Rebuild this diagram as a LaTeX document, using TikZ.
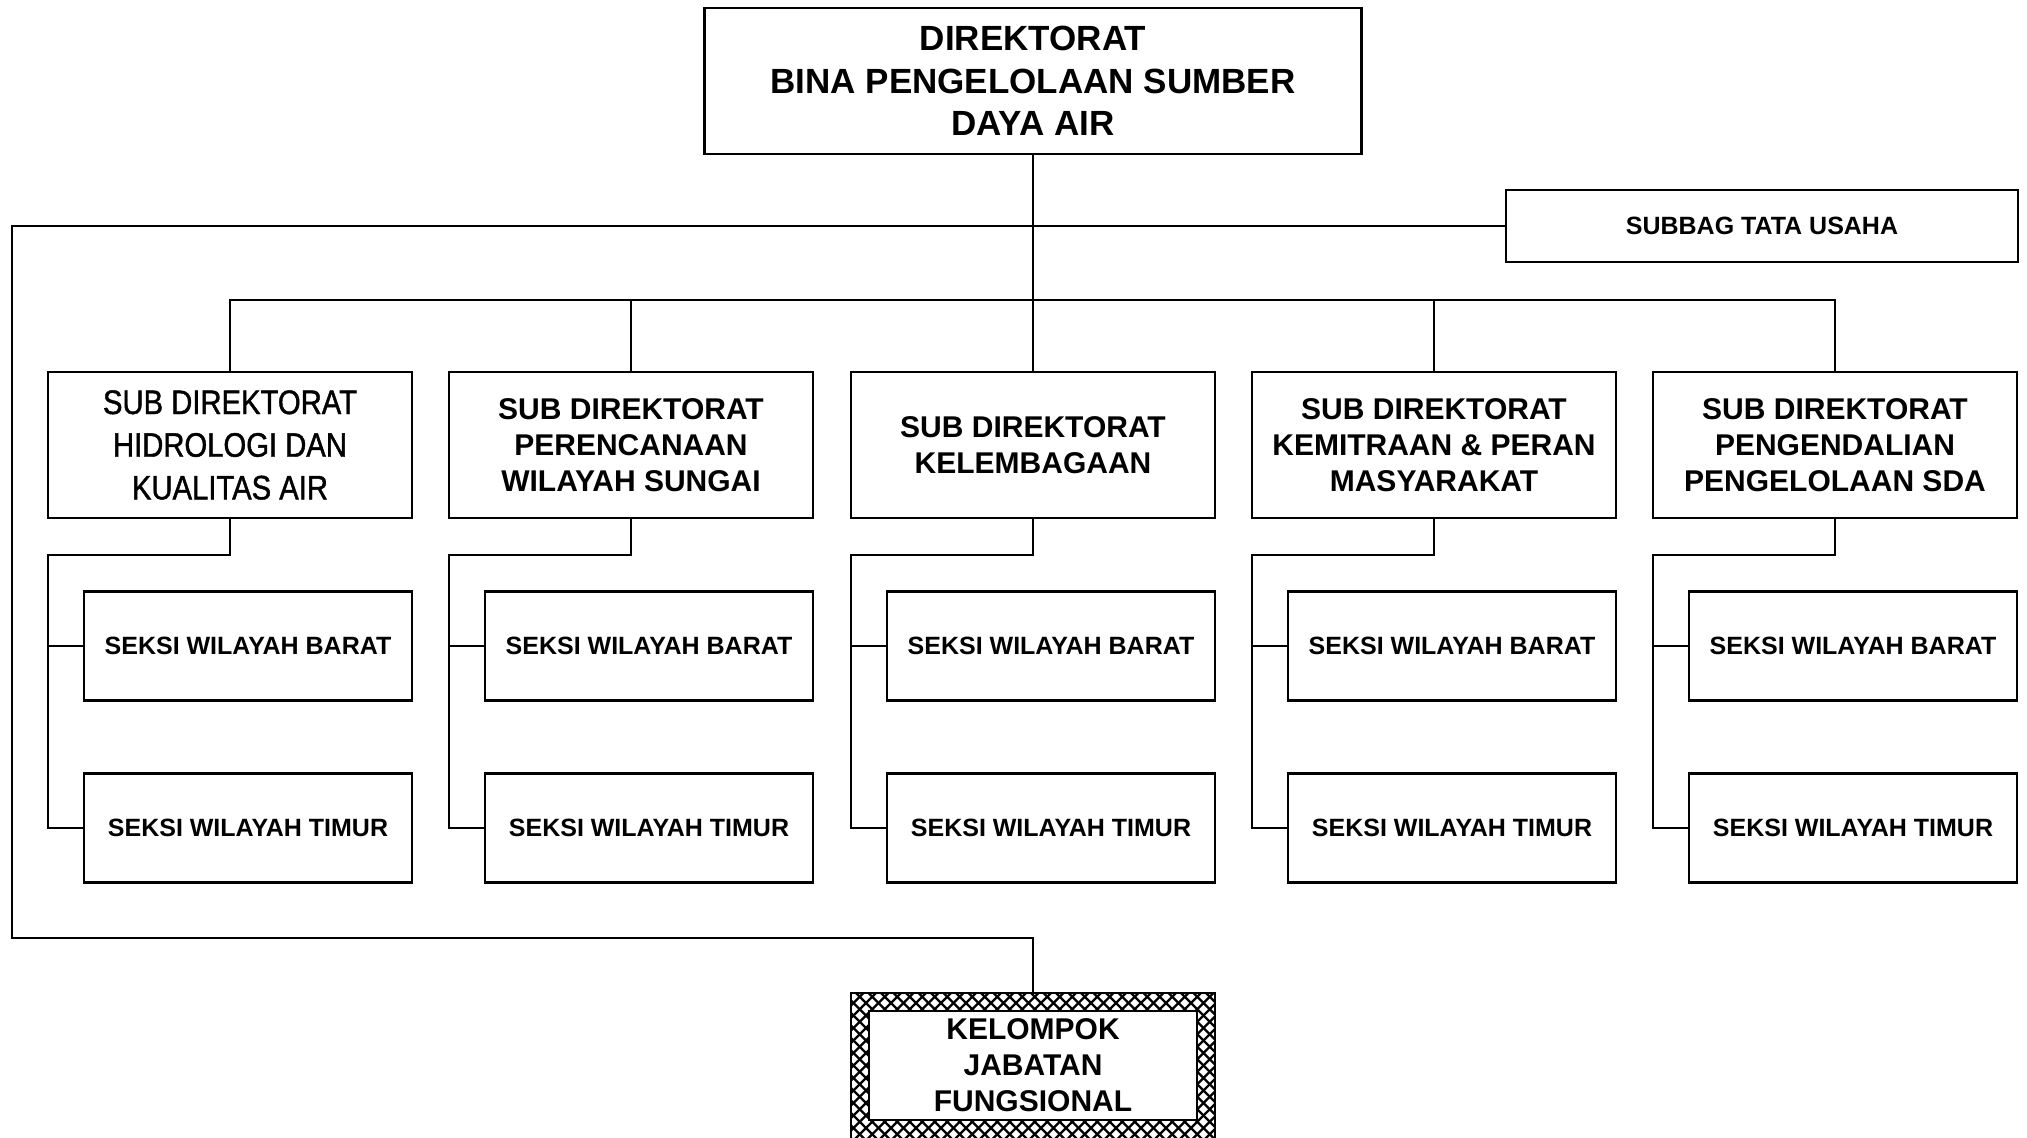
\documentclass[tikz,border=0pt]{standalone}
\usepackage{fontspec}
\setmainfont{Liberation Sans}
\newfontfamily\narrowf[FakeStretch=0.86,FakeBold=1.2]{Liberation Sans}
\begin{document}
\begin{tikzpicture}[x=1pt,y=1pt,
  box/.style={draw, line width=2.8pt, fill=white, inner sep=0pt, outer sep=0pt, align=center, text=black},
  conn/.style={line width=2.8pt, line join=miter},
  topf/.style={font=\fontsize{35}{42.7}\selectfont\bfseries},
  subf/.style={font=\fontsize{30}{36}\selectfont\bfseries},
  narf/.style={font=\narrowf\fontsize{34}{42.7}\selectfont},
  smallf/.style={font=\fontsize{25}{30}\selectfont\bfseries},
  subbox/.style={box, minimum width=364pt, minimum height=146pt},
  seksibox/.style={box, minimum width=328pt, minimum height=109pt, smallf},
  hatchline/.style={line width=2.2pt}]
\useasboundingbox (0,0) rectangle (2027,-1138);

% top
\node[box, topf, minimum width=657pt, minimum height=146pt] (top) at (1033,-81)
  {DIREKTORAT\\BINA PENGELOLAAN SUMBER\\DAYA AIR};
% subbag
\node[box, smallf, minimum width=512pt, minimum height=72pt] (subbag) at (1762,-226)
  {SUBBAG TATA USAHA};

% sub direktorat
\node[subbox, narf] (s1) at (230,-445) {SUB DIREKTORAT\\HIDROLOGI DAN\\KUALITAS AIR};
\node[subbox, subf] (s2) at (631,-445) {SUB DIREKTORAT\\PERENCANAAN\\WILAYAH SUNGAI};
\node[subbox, subf] (s3) at (1033,-445) {SUB DIREKTORAT\\KELEMBAGAAN};
\node[subbox, subf] (s4) at (1434,-445) {SUB DIREKTORAT\\KEMITRAAN \& PERAN\\MASYARAKAT};
\node[subbox, subf] (s5) at (1835,-445) {SUB DIREKTORAT\\PENGENDALIAN\\PENGELOLAAN SDA};

% seksi
\foreach \i/\x in {1/230,2/631,3/1033,4/1434,5/1835}{
  \node[seksibox] (b\i) at (\x+18,-646) {SEKSI WILAYAH BARAT};
  \node[seksibox] (t\i) at (\x+18,-828) {SEKSI WILAYAH TIMUR};
}

% kelompok jabatan fungsional
\node[inner sep=0pt, outer sep=0pt, minimum width=364pt, minimum height=160pt] (kelo) at (1033,-1073) {};
\begin{scope}
  \clip (kelo.north west) rectangle (kelo.south east);
  \foreach \i in {0,...,44}{
    \draw[hatchline] (681+\i*12.5,-993) -- ++(170,-170);
    \draw[hatchline] (851+\i*12.5,-993) -- ++(-170,-170);
  }
\end{scope}
\draw[line width=2.8pt] (kelo.north west) rectangle (kelo.south east);
\node[box, subf, minimum width=328pt, minimum height=109pt] (kel) at (1033,-1065.5)
  {KELOMPOK\\JABATAN\\FUNGSIONAL};

% connectors
\draw[conn] (top.south) -- (s3.north);
\coordinate (loopL) at (12,-938);
\draw[conn] (subbag.west) -| (loopL) -| (kelo.north);
\coordinate (bus) at (0,-300);
\draw[conn] (s1.north) |- (s5.north |- bus) -- (s5.north);
\draw[conn] (s2.north) -- (s2.north |- bus);
\draw[conn] (s4.north) -- (s4.north |- bus);
\foreach \i in {1,...,5}{
  \draw[conn] (s\i.south) |- ([yshift=-37pt]s\i.south west) |- (t\i.west);
  \draw[conn] (b\i.west) -- (b\i.west -| s\i.west);
}
\end{tikzpicture}
\end{document}
